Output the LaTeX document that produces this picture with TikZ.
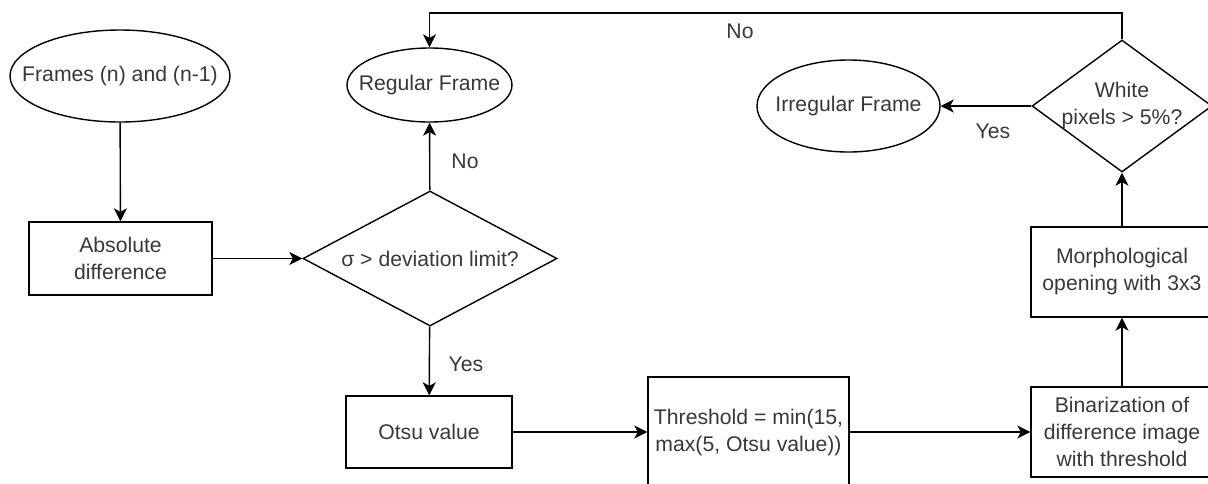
\documentclass[tikz,border=0pt]{standalone}
\usepackage{fontspec}
\setmainfont{Liberation Sans}
\usetikzlibrary{shapes.geometric}
\usetikzlibrary{arrows.meta}

\begin{document}
\begin{tikzpicture}[x=0.5pt,y=-0.5pt,line width=0.7pt,
  >={Stealth[length=6.5pt,width=6.5pt,inset=1.8pt]},
  every node/.style={font=\fontsize{10.6}{13.5}\selectfont,text=black!78,align=center},
  termbox/.style={ellipse,draw=black,inner xsep=-30pt,inner ysep=0pt},
  procbox/.style={rectangle,draw=black,inner sep=0pt},
  decbox/.style={diamond,draw=black,inner sep=-2pt},
  lbl/.style={inner sep=0pt}]
\useasboundingbox (0,0) rectangle (1208,483);
\node (frames) [termbox,minimum width=110pt,minimum height=46pt] at (120,76) {Frames (n) and (n-1)};
\node (absdiff) [procbox,minimum width=91.5pt,minimum height=36.5pt] at (120.5,258.5) {Absolute\\difference};
\node (sigma) [decbox,aspect=1.88,minimum width=127pt,minimum height=67.5pt] at (430,258.5) {σ > deviation limit?};
\node (regular) [termbox,minimum width=82.5pt,minimum height=37pt] at (429.5,85) {Regular Frame};
\node (otsu) [procbox,minimum width=83pt,minimum height=36pt] at (429,432) {Otsu value};
\node (thresh) [procbox,minimum width=100.5pt,minimum height=56pt] at (748.5,433) {Threshold = min(15,\\max(5, Otsu value))};
\node (binar) [procbox,minimum width=91pt,minimum height=45pt] at (1122,432) {Binarization of\\difference image\\with threshold};
\node (morph) [procbox,minimum width=91pt,minimum height=45pt] at (1122,272) {Morphological\\opening with 3x3};
\node (white) [decbox,aspect=1.36,minimum width=90pt,minimum height=66pt] at (1122,106) {White\\pixels > 5\%?};
\node (irregular) [termbox,minimum width=91.5pt,minimum height=46pt] at (848.5,106) {Irregular Frame};
\coordinate (loop) at (1122,13);

% connectors
\draw[->] (frames) -- (absdiff);
\draw[->] (absdiff) -- (sigma);
\draw[->] (sigma) -- (regular);
\draw[->] (sigma) -- (otsu);
\draw[->] (otsu.east) -- (otsu.east -| thresh.west);
\draw[->] (thresh.east |- binar.west) -- (binar.west);
\draw[->] (binar) -- (morph);
\draw[->] (morph) -- (white);
\draw[->] (white) -- (irregular);
\draw[->] (white.north) -- (loop) -| (regular.north);

% branch labels
\node (nosigma) [lbl] at (465,161) {No};
\node (yessigma) [lbl] at (466,364) {Yes};
\node (yeswhite) [lbl] at (993,131) {Yes};
\node (nowhite) [lbl] at (740,31) {No};
\end{tikzpicture}
\end{document}
